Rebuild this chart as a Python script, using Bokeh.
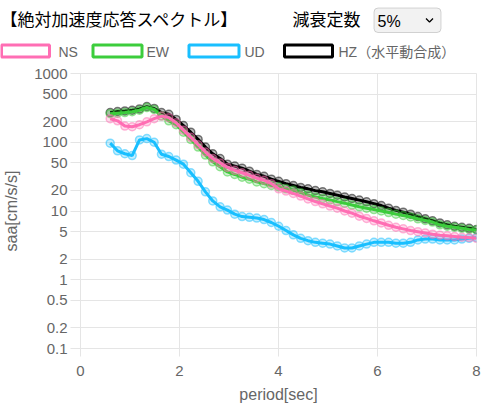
from bokeh.plotting import figure
from bokeh.models import Range1d, FixedTicker, CustomJSTickFormatter, BoxAnnotation
from bokeh.core.properties import value
from bokeh.embed import file_html
from bokeh.resources import INLINE

# ---------------- data ----------------
title_text = "【絶対加速度応答スペクトル】"
damping_label = "減衰定数"
damping_value = "5%"

series_names = ["NS", "EW", "UD", "HZ（水平動合成）"]
series_colors = ["#ff6eb4", "#3ccd3c", "#19bfff", "#000000"]

period = [0.6, 0.748, 0.896, 1.044, 1.192, 1.34, 1.488, 1.636, 1.784, 1.932,
          2.08, 2.228, 2.376, 2.524, 2.672, 2.82, 2.968, 3.116, 3.264, 3.412,
          3.56, 3.708, 3.856, 4.004, 4.152, 4.3, 4.448, 4.596, 4.744, 4.892,
          5.04, 5.188, 5.336, 5.484, 5.632, 5.78, 5.928, 6.076, 6.224, 6.372,
          6.52, 6.668, 6.816, 6.964, 7.112, 7.26, 7.408, 7.556, 7.704, 7.852, 8.0]

ns = [220, 205, 172, 168, 180, 198, 220, 240, 228, 192,
      150, 118, 92, 72, 58, 50, 43, 39, 36, 33,
      30, 28, 25, 21, 19.5, 18, 16.5, 15, 13.7, 12.7,
      11.8, 11, 10, 9.3, 8.4, 7.8, 7.2, 6.7, 6.2, 5.8,
      5.5, 5.2, 5.0, 4.8, 4.6, 4.45, 4.35, 4.25, 4.15, 4.1, 4.0]

ew = [260, 265, 270, 278, 292, 320, 300, 240, 205, 180,
      140, 110, 85, 65, 52, 44, 37, 34, 31, 29,
      26.5, 25, 23.5, 22.5, 21, 20, 18.5, 17, 16, 15.2,
      14.5, 13.7, 13, 12.2, 11.5, 11, 10.5, 10, 9.5, 9,
      8.6, 8.2, 7.7, 7.3, 6.9, 6.3, 6.0, 5.8, 5.6, 5.4, 5.3]

ud = [97, 75, 68, 64, 108, 113, 100, 67, 62, 55,
      48, 36, 27, 19, 14, 11.5, 10.3, 9, 8.3, 8.1,
      7.9, 7.5, 6.8, 6.0, 5.2, 4.5, 4.0, 3.7, 3.5, 3.4,
      3.3, 3.1, 2.9, 2.9, 3.1, 3.3, 3.5, 3.5, 3.5, 3.4,
      3.4, 3.5, 3.8, 3.9, 3.9, 3.8, 3.8, 3.8, 3.9, 4.0, 4.1]

hz = [270, 280, 285, 292, 305, 330, 310, 270, 255, 215,
      175, 140, 110, 85, 68, 58, 48, 45, 42, 38,
      34, 32, 29, 27, 25, 23.5, 22, 21, 19.8, 19,
      18, 17, 16, 15.2, 14.4, 13.6, 12.8, 12, 11, 10.2,
      9.6, 9, 8.3, 7.7, 7.2, 6.7, 6.3, 6.0, 5.8, 5.6, 5.4]

x_ticks = [0, 2, 4, 6, 8]
y_ticks = [0.1, 0.2, 0.5, 1, 2, 5, 10, 20, 50, 100, 200, 500, 1000]

x_label = "period[sec]"
y_label = "saa[cm/s/s]"

LATIN = "Liberation Sans, Noto Sans CJK JP"
CJK = "Noto Sans CJK JP"
GRID = "#e5e5e5"

# ---------------- header (title, damping select, legend) ----------------
W = 481
HH = 64
hdr = figure(width=W, height=HH, x_range=Range1d(0, W), y_range=Range1d(HH, 0),
             output_backend="svg", toolbar_location=None,
             x_axis_location=None, y_axis_location=None, min_border=0)
hdr.grid.visible = False
hdr.outline_line_color = None

hdr.text(x=[0], y=[18], text=[title_text], text_font=value(CJK),
         text_font_size="17px", text_baseline="middle", text_align="left",
         text_color="#000000")
hdr.text(x=[292], y=[18], text=[damping_label], text_font=value(CJK),
         text_font_size="17px", text_baseline="middle", text_align="left",
         text_color="#000000")
hdr.add_layout(BoxAnnotation(left=373.5, right=440.5, top=7.5, bottom=32,
                             fill_color="#f2f2f2", fill_alpha=1, level="underlay",
                             line_color="#767676", line_width=1, border_radius=4))
hdr.text(x=[377], y=[20.5], text=[damping_value], text_font=value(LATIN),
         text_font_size="16px", text_baseline="middle", text_align="left",
         text_color="#000000")
hdr.line(x=[425.5, 429, 432.5], y=[18, 21.5, 18], line_color="#000000", line_width=1.3)

leg_box_x = [25, 117, 213.5, 308]
leg_box_w = [48, 49, 50, 48]
leg_text_x = [58, 146, 244, 338]
for i in range(4):
    hdr.rect(x=[leg_box_x[i]], y=[50.5], width=leg_box_w[i], height=12,
             fill_color="#ffffff", line_color=series_colors[i], line_width=3)
    hdr.text(x=[leg_text_x[i]], y=[51], text=[series_names[i]], text_font=value(LATIN),
             text_font_size="14px", text_baseline="middle", text_align="left",
             text_color="#666666")

# ---------------- main chart ----------------
p = figure(width=W, height=408 - HH, x_range=Range1d(0, 8), y_range=Range1d(0.1, 1000),
           y_axis_type="log", output_backend="svg", toolbar_location=None,
           min_border_left=80, min_border_right=5, min_border_top=9, min_border_bottom=60)
p.outline_line_color = GRID

p.xaxis.ticker = FixedTicker(ticks=x_ticks)
p.yaxis.ticker = FixedTicker(ticks=y_ticks)
p.xgrid.ticker = FixedTicker(ticks=x_ticks)
p.ygrid.ticker = FixedTicker(ticks=y_ticks)
p.yaxis.formatter = CustomJSTickFormatter(code="return String(tick);")
p.grid.grid_line_color = GRID
p.grid.grid_line_width = 1

for ax in (p.xaxis[0], p.yaxis[0]):
    ax.axis_line_color = GRID
    ax.major_tick_line_color = GRID
    ax.major_tick_in = 0
    ax.minor_tick_line_color = None
    ax.major_label_text_color = "#666666"
    ax.major_label_text_font = LATIN
    ax.major_label_text_font_size = "15px"
    ax.axis_label_text_color = "#666666"
    ax.axis_label_text_font = LATIN
    ax.axis_label_text_font_size = "16px"
    ax.axis_label_text_font_style = "normal"

p.yaxis.major_tick_out = 10
p.yaxis.major_label_standoff = 3
p.yaxis.axis_label = y_label
p.yaxis.axis_label_standoff = 11

p.xaxis.major_tick_out = 8
p.xaxis.major_label_standoff = 9
p.xaxis.axis_label = x_label
p.xaxis.axis_label_standoff = 7

all_series = [ns, ew, ud, hz]
# Chart.js draws first dataset on top -> draw in reverse order
for i in [3, 2, 1, 0]:
    c = series_colors[i]
    p.line(period, all_series[i], line_color=c, line_width=3)
    p.scatter(period, all_series[i], size=8, line_color=c, line_alpha=0.5,
              fill_color=c, fill_alpha=0.25, line_width=1.5)

open("out.html", "w").write(file_html([hdr, p], INLINE))
